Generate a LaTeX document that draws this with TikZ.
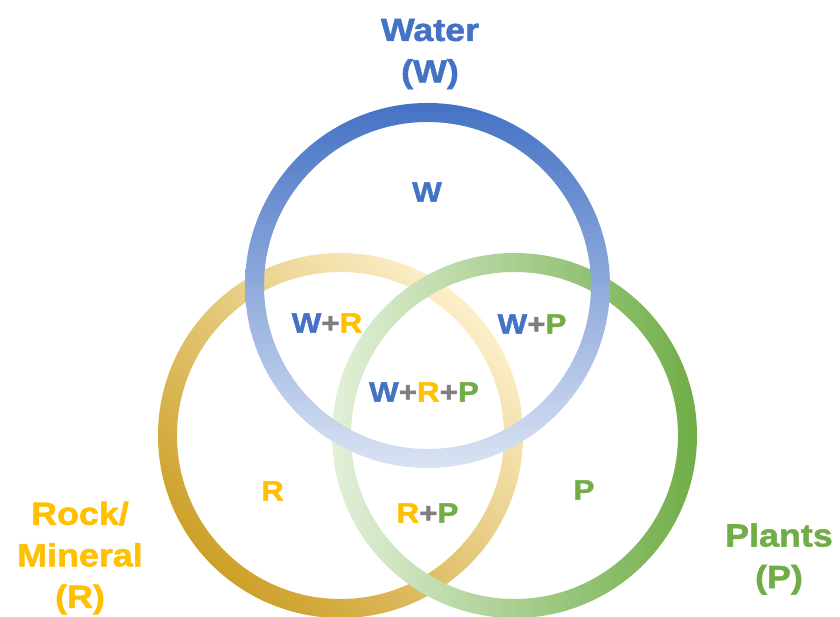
\documentclass[tikz,border=0pt]{standalone}
\usepackage{fontspec}
\setmainfont{Liberation Sans}[FakeStretch=1.12, BoldFeatures={FakeBold=1.6}]

\definecolor{wblue}{HTML}{4472C4}
\definecolor{wlight}{HTML}{DAE3F3}
\definecolor{rgold}{HTML}{FFC000}
\definecolor{rdark}{HTML}{CCA028}
\definecolor{rlight}{HTML}{FCEFC9}
\definecolor{pgreen}{HTML}{70AD47}
\definecolor{plight}{HTML}{E2F0D9}
\definecolor{plusgray}{HTML}{7F7F7F}

\tikzset{
    ring/.style={even odd rule},
    region/.style={font=\fontsize{28}{34}\selectfont\bfseries, inner sep=0pt},
    setname/.style={font=\fontsize{32}{41.5}\selectfont\bfseries, align=center, inner sep=0pt}
}
\newcommand{\pl}{\textcolor{plusgray}{+}}

\begin{document}
\begin{tikzpicture}[x=1pt,y=1pt]
            \useasboundingbox (0,0) rectangle (840,617);
            \coordinate (W) at (427.5, 331.5);\coordinate (R) at (340.5, 181.5);\coordinate (P) at (514.5, 181.5);

            % rings, water last so it sits on top
            \shade[ring, top color=rlight, bottom color=rdark, shading angle=-45] (R) circle (182.5pt) (R) circle (163.5pt);
            \shade[ring, left color=plight, right color=pgreen] (P) circle (182.5pt) (P) circle (163.5pt);
            \shade[ring, top color=wblue, bottom color=wlight] (W) circle (182.5pt) (W) circle (163.5pt);

            \node[setname, text=wblue] (water) at (430, 563) {Water\\(W)};
            \node[setname, text=rgold] (rock) at (80, 59) {Rock/\\Mineral\\(R)};
            \node[setname, text=pgreen] (plants) at (779, 58) {Plants\\(P)};

            \node[region, text=wblue] (w) at (427, 425) {W};
            \node[region] (wr) at (327, 294) {\textcolor{wblue}{W}\pl\textcolor{rgold}{R}};
            \node[region] (wp) at (532, 293) {\textcolor{wblue}{W}\pl\textcolor{pgreen}{P}};
            \node[region] (wrp) at (424, 225) {\textcolor{wblue}{W}\pl\textcolor{rgold}{R}\pl\textcolor{pgreen}{P}};
            \node[region, text=rgold] (r) at (272.5, 126) {R};
            \node[region] (rp) at (427.5, 104) {\textcolor{rgold}{R}\pl\textcolor{pgreen}{P}};
            \node[region, text=pgreen] (p) at (584, 127) {P};
\end{tikzpicture}
\end{document}
